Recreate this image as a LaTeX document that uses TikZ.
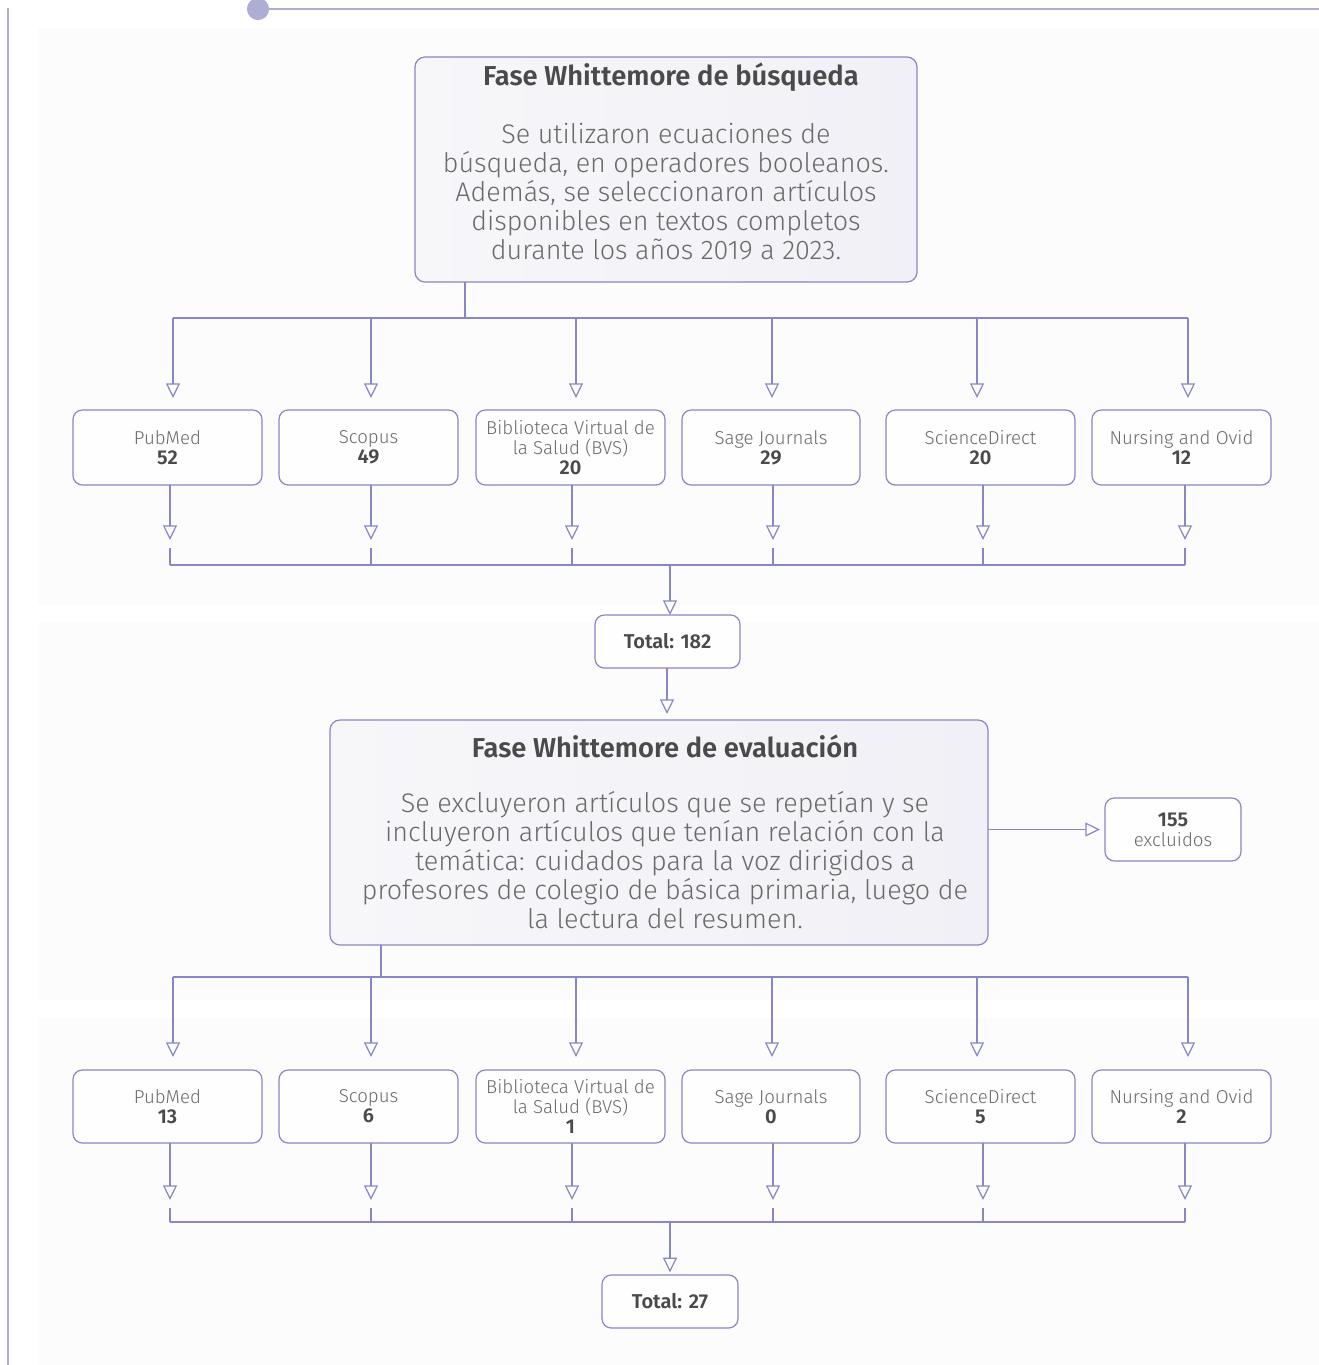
\documentclass[tikz,border=0pt]{standalone}
\usepackage{fontspec}
\setmainfont{Fira Sans Light}[BoldFont={Fira Sans SemiBold}]
\usetikzlibrary{arrows.meta}
\definecolor{ln}{HTML}{8886C6}
\definecolor{deco}{HTML}{AEADD3}
\definecolor{txt}{HTML}{6A6A6A}
\definecolor{txtb}{HTML}{4A4A4A}
\definecolor{panel}{HTML}{FCFCFD}
\definecolor{gA}{HTML}{F7F7FA}
\definecolor{gB}{HTML}{D8D8E9}
\definecolor{gC}{HTML}{F0F0F6}
\tikzset{
  conn/.style={draw=ln, line width=0.9pt},
  arr/.style={conn, -{Triangle[open,length=11pt,width=10.5pt,line width=0.9pt]}},
  bigbox/.style={draw=ln, line width=0.9pt, rounded corners=7.5pt, left color=gA, middle color=gB, right color=gC, inner sep=0pt, outer sep=0pt, minimum height=168.75pt},
  smallbox/.style={draw=ln, line width=0.9pt, rounded corners=7pt, fill=white!60!panel, inner sep=0pt, outer sep=0pt, align=center, text=txt, font=\fontsize{14}{15}\selectfont},
  ttl/.style={text=txtb, font=\fontsize{20.5}{24}\selectfont\bfseries, inner sep=0pt},
  body/.style={text=txt, align=center, font=\fontsize{20.2}{21.75}\selectfont, inner sep=0pt},
}
\newcommand{\nb}[1]{\textcolor{txtb}{\fontsize{15}{15}\selectfont\bfseries #1}}
\begin{document}
\begin{tikzpicture}[x=0.75pt,y=-0.75pt]
\useasboundingbox (0,0) rectangle (1319,1365);
\fill[white] (0,0) rectangle (1319,1365);
% background panels
\fill[panel] (38,28) rectangle (1319,605);
\fill[panel] (38,622) rectangle (1319,1000);
\fill[panel] (38,1018) rectangle (1319,1365);
% decoration
\draw[deco, line width=1.8pt] (8,8) -- (8,1365);
\draw[deco, line width=1.8pt] (258,9) -- (1319,9);
\fill[deco] (258,9) circle (8.3pt);

% ---- phase 1 box
\node[bigbox, minimum width=376.5pt] (box1) at (666,169.5) {};
\node[ttl] (t1) at (671,77) {Fase Whittemore de búsqueda};
\node[body] (b1) at (666,192) {Se utilizaron ecuaciones de\\búsqueda, en operadores booleanos.\\Además, se seleccionaron artículos\\disponibles en textos completos\\durante los años 2019 a 2023.};

% row 1 boxes
\node[smallbox, minimum width=141.75pt, minimum height=56.25pt] (a1) at (167.5,447.5) {PubMed\\\nb{52}};
\node[smallbox, minimum width=134.25pt, minimum height=56.25pt] (a2) at (368.5,447.5) {Scopus\\\nb{49}};
\node[smallbox, minimum width=141.75pt, minimum height=56.25pt] (a3) at (570.5,447.5) {Biblioteca Virtual de\\la Salud (BVS)\\\nb{20}};
\node[smallbox, minimum width=133.5pt, minimum height=56.25pt] (a4) at (771,447.5) {Sage Journals\\\nb{29}};
\node[smallbox, minimum width=141.75pt, minimum height=56.25pt] (a5) at (980.5,447.5) {ScienceDirect\\\nb{20}};
\node[smallbox, minimum width=134.25pt, minimum height=56.25pt] (a6) at (1181.5,447.5) {Nursing and Ovid\\\nb{12}};

\coordinate (s1) at (465,318);
\draw[conn] (box1.south -| s1) -- (s1);
\draw[conn] (173,318) -- (1188,318);
\foreach \x/\n in {173/a1,371/a2,576/a3,772/a4,977/a5,1188/a6}{
  \draw[arr, shorten >=9pt] (\x,318) -- (\n.north -| \x,0);
}
\foreach \x/\n in {170/a1,371/a2,572/a3,773/a4,983/a5,1185/a6}{
  \draw[arr] (\n.south -| \x,0) -- (\x,540);
  \draw[conn] (\x,548) -- (\x,565);
}
\draw[conn] (170,565) -- (1185,565);

\node[smallbox, minimum width=108.75pt, minimum height=39.75pt] (tot1) at (667.5,641.5) {\nb{Total: 182}};
\draw[arr] (670,565) -- (tot1.north -| 670,0);

% ---- phase 2 box
\node[bigbox, minimum width=493.5pt] (box2) at (659,832.5) {};
\draw[arr, shorten >=4.5pt] (tot1.south -| 667,0) -- (box2.north -| 667,0);
\node[ttl] (t2) at (665,746) {Fase Whittemore de evaluación};
\node[body] (b2) at (665,860.5) {Se excluyeron artículos que se repetían y se\\incluyeron artículos que tenían relación con la\\temática: cuidados para la voz dirigidos a\\profesores de colegio de básica primaria, luego de\\la lectura del resumen.};

\node[smallbox, minimum width=102pt, minimum height=47.25pt] (exc) at (1173,829.5) {\nb{155}\\excluidos};
\draw[arr, shorten >=3.75pt] (box2.east |- exc) -- (exc.west);

% row 2 boxes
\node[smallbox, minimum width=141.75pt, minimum height=54.75pt] (c1) at (167.5,1106.5) {PubMed\\\nb{13}};
\node[smallbox, minimum width=134.25pt, minimum height=54.75pt] (c2) at (368.5,1106.5) {Scopus\\\nb{6}};
\node[smallbox, minimum width=141.75pt, minimum height=54.75pt] (c3) at (570.5,1106.5) {Biblioteca Virtual de\\la Salud (BVS)\\\nb{1}};
\node[smallbox, minimum width=133.5pt, minimum height=54.75pt] (c4) at (771,1106.5) {Sage Journals\\\nb{0}};
\node[smallbox, minimum width=141.75pt, minimum height=54.75pt] (c5) at (980.5,1106.5) {ScienceDirect\\\nb{5}};
\node[smallbox, minimum width=134.25pt, minimum height=54.75pt] (c6) at (1181.5,1106.5) {Nursing and Ovid\\\nb{2}};

\coordinate (s2) at (381,977);
\draw[conn] (box2.south -| s2) -- (s2);
\draw[conn] (173,977) -- (1188,977);
\foreach \x/\n in {173/c1,371/c2,576/c3,772/c4,977/c5,1188/c6}{
  \draw[arr, shorten >=9.75pt] (\x,977) -- (\n.north -| \x,0);
}
\foreach \x/\n in {170/c1,371/c2,572/c3,773/c4,983/c5,1185/c6}{
  \draw[arr] (\n.south -| \x,0) -- (\x,1200);
  \draw[conn] (\x,1208) -- (\x,1222);
}
\draw[conn] (170,1222) -- (1185,1222);

\node[smallbox, minimum width=102pt, minimum height=39.75pt] (tot2) at (670,1301.5) {\nb{Total: 27}};
\draw[arr, shorten >=2pt] (670,1222) -- (tot2.north);
\end{tikzpicture}
\end{document}
